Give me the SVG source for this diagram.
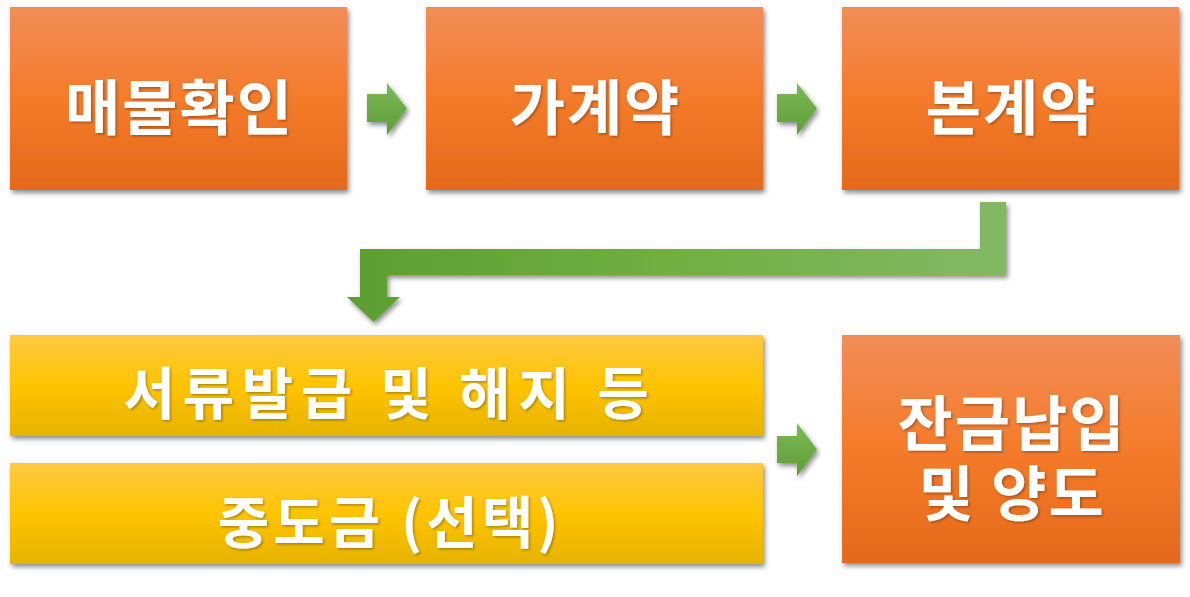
<svg xmlns="http://www.w3.org/2000/svg" width="1190" height="597" viewBox="0 0 1190 597">
  <defs>
    <linearGradient id="gOrange" x1="0" y1="0" x2="0" y2="1">
      <stop offset="0" stop-color="#F28D57"/>
      <stop offset="0.5" stop-color="#F47B2A"/>
      <stop offset="1" stop-color="#E5691A"/>
    </linearGradient>
    <linearGradient id="gYellow" x1="0" y1="0" x2="0" y2="1">
      <stop offset="0" stop-color="#FFC944"/>
      <stop offset="0.5" stop-color="#FFC400"/>
      <stop offset="1" stop-color="#E6B300"/>
    </linearGradient>
    <linearGradient id="gGreenV" x1="0" y1="0" x2="0" y2="1">
      <stop offset="0" stop-color="#7DB85A"/>
      <stop offset="1" stop-color="#5E9E33"/>
    </linearGradient>
    <linearGradient id="gGreenH" gradientUnits="userSpaceOnUse" x1="347" y1="0" x2="1006" y2="0">
      <stop offset="0" stop-color="#5C9E31"/>
      <stop offset="0.5" stop-color="#70B042"/>
      <stop offset="1" stop-color="#83B865"/>
    </linearGradient>
    <filter id="shadow" x="-5%" y="-10%" width="115%" height="130%">
      <feDropShadow dx="2" dy="3" stdDeviation="2.5" flood-color="#000" flood-opacity="0.45"/>
    </filter>
    <filter id="tshadow" x="-5%" y="-10%" width="115%" height="130%">
      <feDropShadow dx="1.5" dy="1.5" stdDeviation="1" flood-color="#000" flood-opacity="0.3"/>
    </filter>
  </defs>
  <style>
    .box { filter: url(#shadow); }
    .orange { fill: url(#gOrange); }
    .yellow { fill: url(#gYellow); }
    .lbl { font-family: "Noto Sans CJK KR", "Noto Sans", sans-serif; font-weight: 700; fill: #FFFFFF; text-anchor: middle; dominant-baseline: central; filter: url(#tshadow); }
    .big { font-size: 60px; letter-spacing: 2px; }
    .mid1 { font-size: 56px; letter-spacing: 7.5px; }
    .mid2 { font-size: 56px; letter-spacing: 4px; }
    .arrow { fill: url(#gGreenV); filter: url(#shadow); }
  </style>
  <rect width="1190" height="597" fill="#FFFFFF"/>

  <g id="connectors">
    <path class="arrow" d="M367,94 H387 V83 L407,108.5 L387,135 V122 H367 Z"/>
    <path class="arrow" d="M777,94 H797 V83 L817,108.5 L797,135 V122 H777 Z"/>
    <path d="M980,202 H1006 V275 H387 V297 H400 L373.5,322 L347,297 H360 V249 H980 Z" fill="url(#gGreenH)" filter="url(#shadow)"/>
    <path class="arrow" d="M777,436 H797 V423 L817,449.5 L797,476 V463 H777 Z"/>
  </g>

  <g id="node-maemul">
    <rect class="box orange" x="10" y="7" width="337" height="183"/>
    <text class="lbl big" x="179.5" y="103">매물확인</text>
  </g>
  <g id="node-gagyeyak">
    <rect class="box orange" x="426" y="7" width="337" height="183"/>
    <text class="lbl big" x="595.5" y="103">가계약</text>
  </g>
  <g id="node-bongyeyak">
    <rect class="box orange" x="842" y="7" width="337" height="183"/>
    <text class="lbl big" x="1011.5" y="103">본계약</text>
  </g>
  <g id="node-seoryu">
    <rect class="box yellow" x="10" y="335" width="753" height="101"/>
    <text class="lbl mid1" x="390" y="389">서류발급 및 해지 등</text>
  </g>
  <g id="node-jungdogeum">
    <rect class="box yellow" x="10" y="463" width="753" height="101"/>
    <text class="lbl mid2" x="390" y="518">중도금 (선택)</text>
  </g>
  <g id="node-janggeum">
    <rect class="box orange" x="842" y="335" width="338" height="228"/>
    <text class="lbl big" x="1012" y="419">잔금납입</text>
    <text class="lbl big" x="1012" y="489">및 양도</text>
  </g>
</svg>
